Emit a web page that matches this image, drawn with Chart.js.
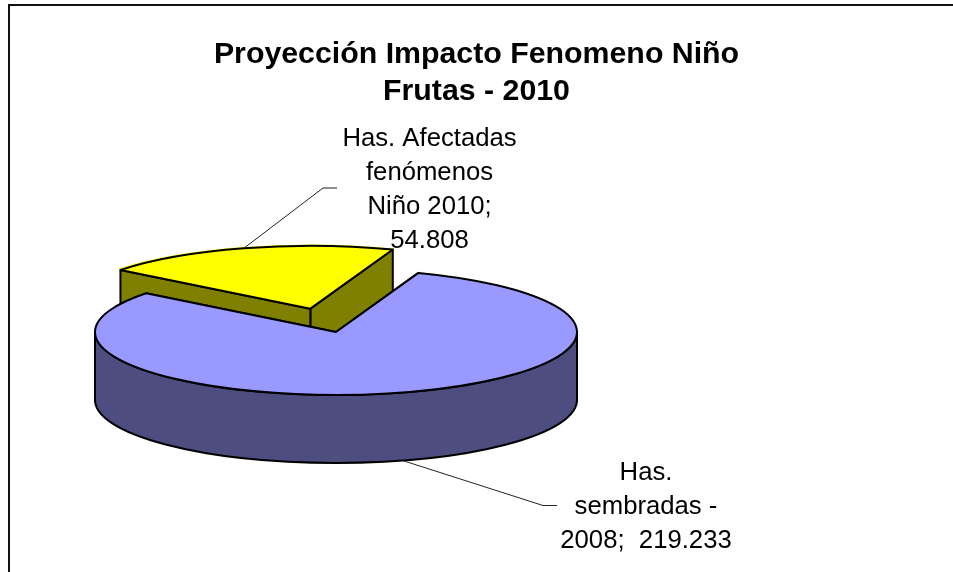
<!DOCTYPE html>
<html>
<head>
<meta charset="utf-8">
<title>Proyección Impacto Fenomeno Niño</title>
<script src="https://cdn.jsdelivr.net/npm/chart.js@4"></script>
<style>
  html, body { margin: 0; padding: 0; background: #fff; }
  #wrap { position: absolute; left: 0; top: 0; width: 953px; height: 572px; }
</style>
</head>
<body>
<div id="wrap"><canvas id="chart" width="953" height="572"></canvas></div>
<script>
const titleLines = ['Proyección Impacto Fenomeno Niño', 'Frutas - 2010'];
const categories = ['Has. sembradas - 2008', 'Has. Afectadas fenómenos Niño 2010'];
const hectares = [219233, 54808];

const topColors = ['#9999FF', '#FFFF00'];
const wallColors = ['#4D4D80', '#808000'];

// Label text, centre and where the leader line breaks
const labelLines = [['Has.', 'sembradas -', '2008;  219.233'], ['Has. Afectadas', 'fenómenos', 'Niño 2010;', '54.808']];
const labelCenters = [{ x: 646, y: 473 }, { x: 429.5, y: 139 }];
const leaderBends = [{ x: 543, y: 505.5, endX: 557 }, { x: 323, y: 188, endX: 337 }];

// 3D look
const pieCenter = { x: 336, y: 332 };
const squash = 0.261;
const depth = 68;

// Pie sits left of the title, so move the area the controller centres it in
function placePie(chart) {
  const a = chart.chartArea;
  a.left = 0;
  a.right = pieCenter.x * 2;
  a.top = pieCenter.y - 240;
  a.bottom = pieCenter.y + 240;
  a.width = a.right - a.left;
  a.height = a.bottom - a.top;
}

function sliceCenter(arc) {
  const mid = (arc.startAngle + arc.endAngle) / 2;
  const off = (arc.options.offset || 0) / 4;
  return { x: arc.x + Math.cos(mid) * off, y: arc.y + Math.sin(mid) * off * squash };
}

function rimPoint(c, arc, angle) {
  return { x: c.x + Math.cos(angle) * arc.outerRadius, y: c.y + Math.sin(angle) * arc.outerRadius * squash };
}

function drawFace(ctx, c, p, color) {
  ctx.beginPath();
  ctx.moveTo(c.x, c.y);
  ctx.lineTo(p.x, p.y);
  ctx.lineTo(p.x, p.y + depth);
  ctx.lineTo(c.x, c.y + depth);
  ctx.closePath();
  ctx.fillStyle = color;
  ctx.fill();
  ctx.stroke();
}

function drawSlice(ctx, arc, wall) {
  const c = sliceCenter(arc);
  const r = arc.outerRadius;
  const ry = r * squash;
  ctx.strokeStyle = '#000';
  ctx.lineWidth = 2;
  ctx.lineJoin = 'round';

  // radial walls, the back one first
  const ends = [arc.startAngle, arc.endAngle].sort((a, b) => Math.sin(a) - Math.sin(b));
  ends.forEach(angle => drawFace(ctx, c, rimPoint(c, arc, angle), wall));

  // outer wall, only the part turned to the viewer
  const a0 = Math.max(arc.startAngle, 0);
  const a1 = Math.min(arc.endAngle, Math.PI);
  if (a1 > a0) {
    ctx.beginPath();
    ctx.ellipse(c.x, c.y, r, ry, 0, a0, a1);
    ctx.ellipse(c.x, c.y + depth, r, ry, 0, a1, a0, true);
    ctx.closePath();
    ctx.fillStyle = wall;
    ctx.fill();
    ctx.stroke();
  }

  // top comes from the arc element itself, squashed around the pie centre
  ctx.save();
  ctx.translate(arc.x, arc.y);
  ctx.scale(1, squash);
  ctx.translate(-arc.x, -arc.y);
  arc.draw(ctx);
  ctx.restore();

  ctx.beginPath();
  ctx.moveTo(c.x, c.y);
  ctx.ellipse(c.x, c.y, r, ry, 0, arc.startAngle, arc.endAngle);
  ctx.closePath();
  ctx.stroke();
}

const pie3d = {
  id: 'pie3d',
  afterLayout: placePie,
  beforeDatasetsDraw(chart) {
    const ctx = chart.ctx;
    const arcs = chart.getDatasetMeta(0).data;
    ctx.save();
    // exploded slice lies behind, the big one goes over it
    for (let i = arcs.length - 1; i >= 0; i--) drawSlice(ctx, arcs[i], wallColors[i]);
    ctx.restore();
    return false;
  },
  afterDraw(chart) {
    const ctx = chart.ctx;
    const arcs = chart.getDatasetMeta(0).data;
    ctx.save();

    // chart frame: only top and left are in the picture
    ctx.strokeStyle = '#111';
    ctx.lineWidth = 2;
    ctx.beginPath();
    ctx.moveTo(9, 572);
    ctx.lineTo(9, 5);
    ctx.lineTo(953, 5);
    ctx.stroke();

    // leader lines run from the rim at each slice's middle angle
    ctx.strokeStyle = '#222';
    ctx.lineWidth = 1;
    arcs.forEach((arc, i) => {
      const mid = (arc.startAngle + arc.endAngle) / 2;
      const p = rimPoint(sliceCenter(arc), arc, mid);
      const front = Math.sin(mid) > 0;
      ctx.beginPath();
      ctx.moveTo(p.x, p.y + (front ? depth : 0));
      ctx.lineTo(leaderBends[i].x, leaderBends[i].y);
      ctx.lineTo(leaderBends[i].endX, leaderBends[i].y);
      ctx.stroke();
    });

    ctx.fillStyle = '#000';
    ctx.font = '25.7px "Liberation Sans"';
    ctx.textAlign = 'center';
    ctx.textBaseline = 'middle';
    labelLines.forEach((lines, i) => {
      lines.forEach((line, j) => ctx.fillText(line, labelCenters[i].x, labelCenters[i].y + j * 34));
    });
    ctx.restore();
  }
};

new Chart(document.getElementById('chart'), {
  type: 'pie',
  data: {
    labels: categories,
    datasets: [{
      data: hectares,
      backgroundColor: topColors,
      borderWidth: 0,
      offset: [0, 372]
    }]
  },
  options: {
    responsive: false,
    animation: false,
    rotation: 20,
    radius: 241,
    plugins: {
      legend: { display: false },
      tooltip: { enabled: false },
      title: {
        display: true,
        text: titleLines,
        color: '#000',
        font: { family: '"Liberation Sans"', size: 30.3, weight: 'bold', lineHeight: 1.22 },
        padding: { top: 36, bottom: 0 }
      }
    }
  },
  plugins: [pie3d]
});
</script>
</body>
</html>
